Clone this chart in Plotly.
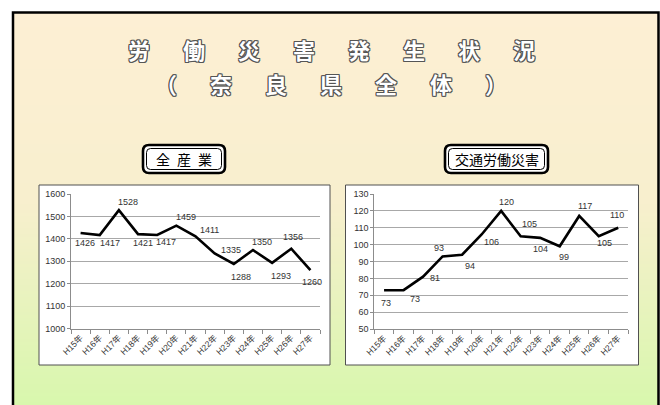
import plotly.graph_objects as go

W, H = 660, 405

# ---------------- data ----------------
years = ["H15年", "H16年", "H17年", "H18年", "H19年", "H20年", "H21年",
         "H22年", "H23年", "H24年", "H25年", "H26年", "H27年"]
all_industry = [1426, 1417, 1528, 1421, 1417, 1459, 1411, 1335, 1288, 1350, 1293, 1356, 1260]
traffic = [73, 73, 81, 93, 94, 106, 120, 105, 104, 99, 117, 105, 110]

title_line1 = "労働災害発生状況"
title_line2 = "（奈良県全体）"
left_title = "全産業"
right_title = "交通労働災害"

# label placement (pixel shift right, pixel shift down) -- styling only
left_label_shift = [(4, 10), (10, 8), (9, -8), (5, 9), (9, 7), (10, -9), (14, -6),
                    (16, -3), (7, 13), (9, -8), (9, 13), (2, -12), (2, 12)]
right_label_shift = [(2, 13), (11, 9), (12, 1), (-4, -8), (8, 11), (10, 8), (5, -9),
                     (9, -12), (0, 11), (4, 11), (6, -10), (6, 7), (-1, -13)]


def X(px):
    return px / W


def Y(py):
    return 1 - py / H


fig = go.Figure()

fig.add_trace(go.Scatter(x=years, y=all_industry, mode="lines",
                         line=dict(color="black", width=2.6),
                         xaxis="x", yaxis="y", showlegend=False, hoverinfo="skip"))
fig.add_trace(go.Scatter(x=years, y=traffic, mode="lines",
                         line=dict(color="black", width=2.6),
                         xaxis="x2", yaxis="y2", showlegend=False, hoverinfo="skip"))

shapes = []

# background gradient bands (beige -> light green)
stops = [(12, (253, 239, 212)), (200, (248, 239, 206)), (405, (216, 247, 173))]


def col_at(py):
    for (y0, c0), (y1, c1) in zip(stops[:-1], stops[1:]):
        if y0 <= py <= y1:
            t = (py - y0) / (y1 - y0)
            return tuple(round(a + (b - a) * t) for a, b in zip(c0, c1))
    return stops[-1][1]


step = 3
py = 12
while py < H:
    c = col_at(py + step / 2)
    shapes.append(dict(type="rect", xref="paper", yref="paper", layer="below",
                       x0=X(13), x1=X(658), y0=Y(min(py + step + 0.5, H + 5)), y1=Y(py),
                       fillcolor="rgb(%d,%d,%d)" % c, line=dict(width=0)))
    py += step

# outer frame
shapes.append(dict(type="rect", xref="paper", yref="paper", layer="below",
                   x0=X(13), x1=X(658.5), y0=Y(420), y1=Y(12.5),
                   line=dict(color="black", width=2.5)))

# chart boxes
for x0, x1 in [(39, 330), (345.5, 638.5)]:
    shapes.append(dict(type="rect", xref="paper", yref="paper", layer="below",
                       x0=X(x0), x1=X(x1), y0=Y(365), y1=Y(185),
                       fillcolor="white", line=dict(color="#505050", width=1)))


def roundrect(x0, y0, x1, y1, r):
    return (f"M {X(x0 + r)} {Y(y0)} L {X(x1 - r)} {Y(y0)} "
            f"Q {X(x1)} {Y(y0)} {X(x1)} {Y(y0 + r)} "
            f"L {X(x1)} {Y(y1 - r)} Q {X(x1)} {Y(y1)} {X(x1 - r)} {Y(y1)} "
            f"L {X(x0 + r)} {Y(y1)} Q {X(x0)} {Y(y1)} {X(x0)} {Y(y1 - r)} "
            f"L {X(x0)} {Y(y0 + r)} Q {X(x0)} {Y(y0)} {X(x0 + r)} {Y(y0)} Z")


for bx0, bx1 in [(143, 225), (445, 548)]:
    shapes.append(dict(type="path", xref="paper", yref="paper", layer="below",
                       path=roundrect(bx0, 145, bx1, 173, 6),
                       fillcolor="white", line=dict(color="black", width=2.6)))
    shapes.append(dict(type="path", xref="paper", yref="paper", layer="below",
                       path=roundrect(bx0 + 3.5, 148.5, bx1 - 3.5, 169.5, 4),
                       fillcolor="rgba(0,0,0,0)", line=dict(color="black", width=1)))

annotations = []

outline = ("-1px -1px 0 #555, 1px -1px 0 #555, -1px 1px 0 #555, 1px 1px 0 #555, "
           "0 1px 0 #555, 0 -1px 0 #555, 1px 0 0 #555, -1px 0 0 #555")
gap = "\u2003\u2002"


def center_note(x, y, text, font):
    annotations.append(dict(xref="paper", yref="paper", x=X(x), y=Y(y), text=text,
                            showarrow=False, xanchor="center", yanchor="middle", font=font))


center_note(331.5, 49, gap.join(title_line1),
            dict(family="Noto Sans CJK JP", size=22, color="white", weight="bold", shadow=outline))
center_note(331, 83, gap.join(title_line2),
            dict(family="Noto Sans CJK JP", size=22, color="white", weight="bold", shadow=outline))
center_note(184, 159, "\u2002".join(left_title),
            dict(family="Noto Sans CJK JP", size=14, color="black"))
center_note(496.5, 159, right_title,
            dict(family="Noto Sans CJK JP", size=14, color="black"))

lab_font = dict(family="Liberation Sans, Arial, sans-serif", size=9, color="#333333")
for cat, v, (dx, dy) in zip(years, all_industry, left_label_shift):
    annotations.append(dict(xref="x", yref="y", x=cat, y=v, text=str(v), showarrow=False,
                            xanchor="center", yanchor="middle",
                            xshift=dx, yshift=-dy, font=lab_font))
for cat, v, (dx, dy) in zip(years, traffic, right_label_shift):
    annotations.append(dict(xref="x2", yref="y2", x=cat, y=v, text=str(v), showarrow=False,
                            xanchor="center", yanchor="middle",
                            xshift=dx, yshift=-dy, font=lab_font))

axis_gray = "#8C8C8C"
grid_gray = "#A8A8A8"
tick_font_y = dict(family="Liberation Sans, Arial, sans-serif", size=9, color="#333333")
tick_font_x = dict(family="Liberation Sans, Arial, Noto Sans CJK JP, sans-serif", size=8.5,
                   color="#333333")


def xax(domain, anchor):
    return dict(domain=domain, type="category", range=[-0.5, 12.5], showline=True,
                linecolor=axis_gray, linewidth=1, ticks="outside", tickson="boundaries",
                ticklen=4, tickcolor=axis_gray, tickangle=-45, showgrid=False,
                tickfont=tick_font_x, fixedrange=True, automargin=False, anchor=anchor)


def yax(domain, rng, dtick, anchor):
    return dict(domain=domain, range=rng, dtick=dtick, showgrid=True, gridcolor=grid_gray,
                gridwidth=1, showline=True, linecolor=axis_gray, linewidth=1,
                ticks="outside", ticklen=3, tickcolor=axis_gray, zeroline=False,
                tickfont=tick_font_y, anchor=anchor, fixedrange=True, automargin=False)


fig.update_layout(
    width=W, height=H,
    autosize=False,
    margin=dict(l=0, r=0, t=0, b=0, pad=0, autoexpand=False),
    paper_bgcolor="white",
    plot_bgcolor="rgba(0,0,0,0)",
    xaxis=xax([X(71), X(320)], "y"),
    yaxis=yax([Y(328.5), Y(194)], [1000, 1600], 100, "x"),
    xaxis2=xax([X(374.3), X(628)], "y2"),
    yaxis2=yax([Y(329), Y(194)], [50, 130], 10, "x2"),
    shapes=shapes,
    annotations=annotations,
    showlegend=False,
)

fig.write_html("out.html", config={"displayModeBar": False},
               post_script="document.body.style.margin='0px';document.body.style.padding='0px';")
